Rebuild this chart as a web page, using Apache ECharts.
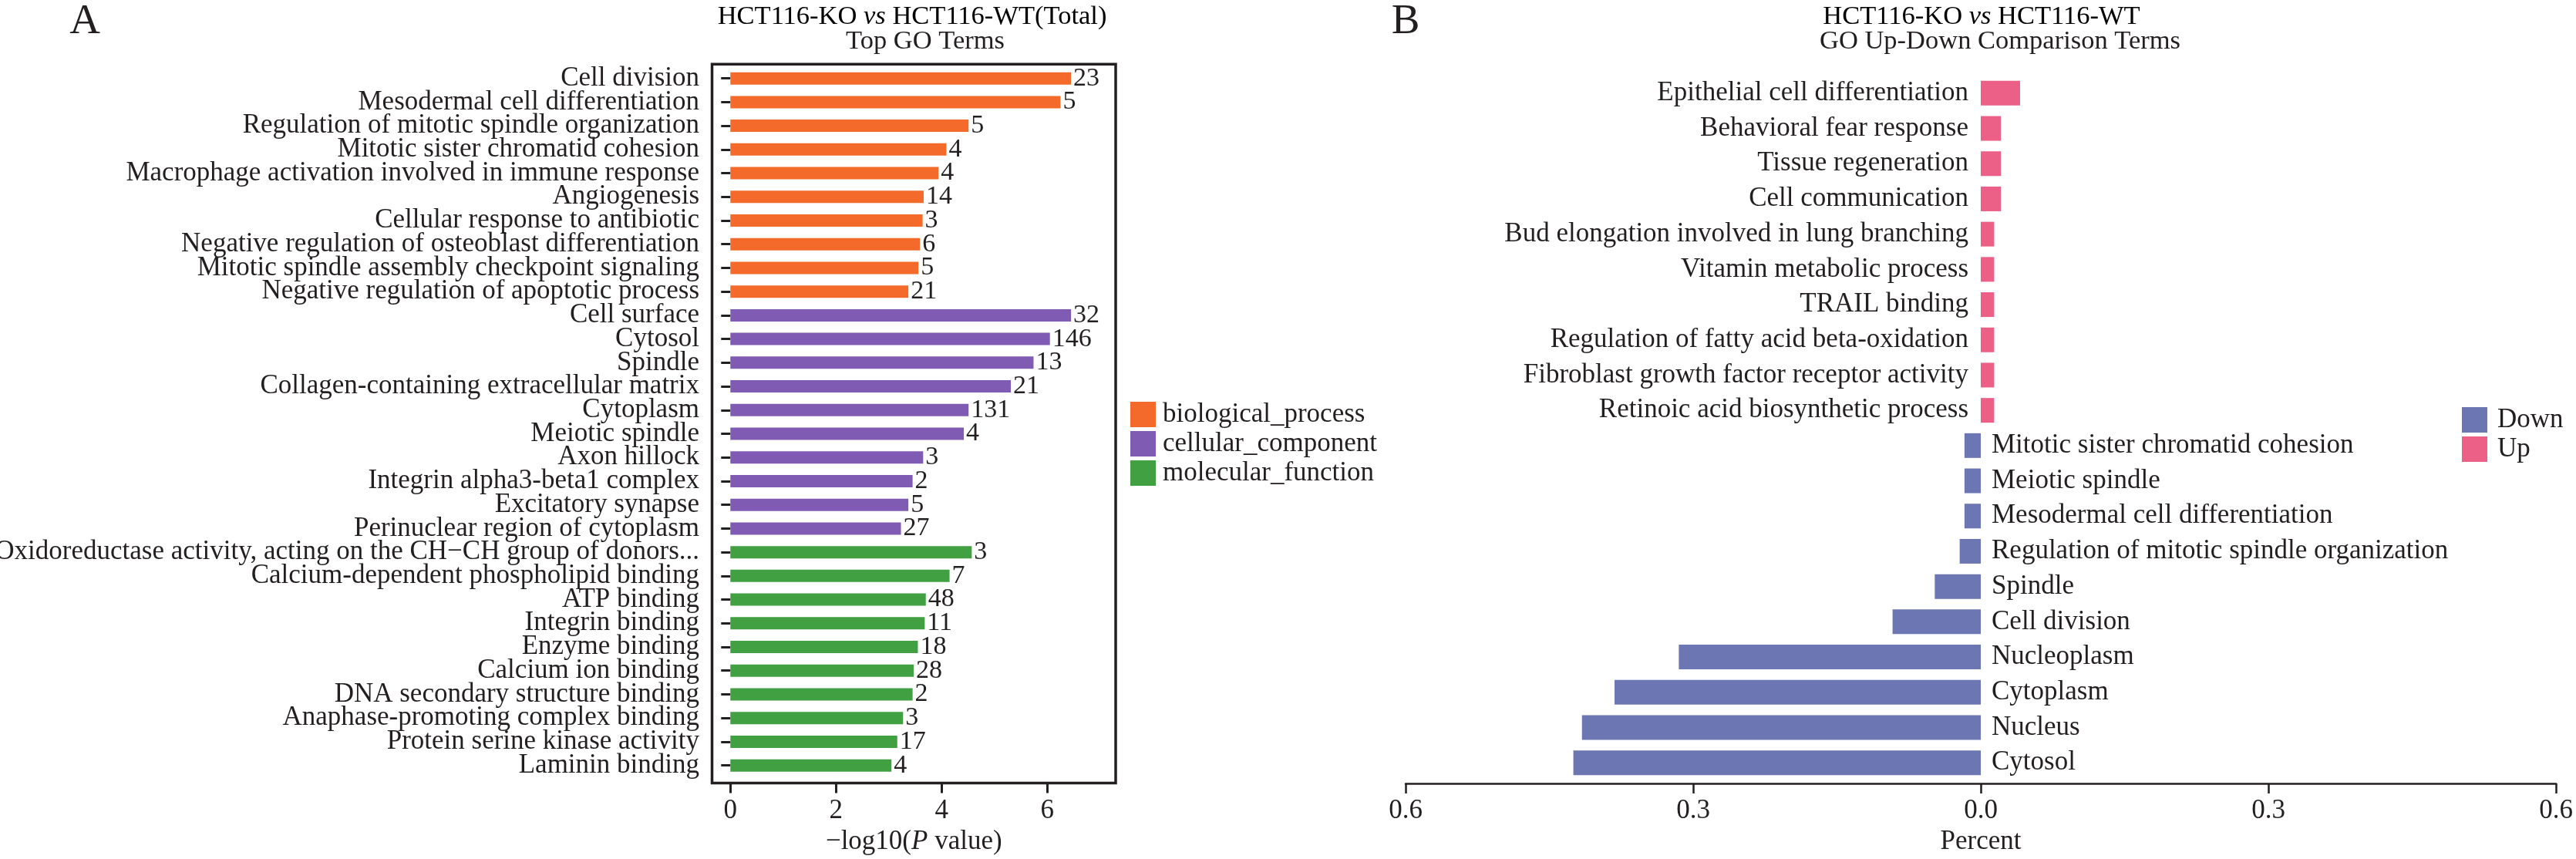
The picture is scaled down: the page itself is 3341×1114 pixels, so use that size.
<!DOCTYPE html>
<html><head><meta charset="utf-8">
<script src="https://cdn.jsdelivr.net/npm/echarts@6/dist/echarts.min.js"></script>
<style>html,body{margin:0;padding:0;background:#fff}#c{width:3341px;height:1114px}</style>
</head><body><div id="c"></div>
<script>
// ---------- Panel A data ----------
const bpTerms = ['Cell division','Mesodermal cell differentiation','Regulation of mitotic spindle organization','Mitotic sister chromatid cohesion','Macrophage activation involved in immune response','Angiogenesis','Cellular response to antibiotic','Negative regulation of osteoblast differentiation','Mitotic spindle assembly checkpoint signaling','Negative regulation of apoptotic process'];
const bpValues = [6.45,6.25,4.51,4.09,3.94,3.66,3.64,3.59,3.56,3.37];
const bpCounts = [23,5,5,4,4,14,3,6,5,21];
const ccTerms = ['Cell surface','Cytosol','Spindle','Collagen-containing extracellular matrix','Cytoplasm','Meiotic spindle','Axon hillock','Integrin alpha3-beta1 complex','Excitatory synapse','Perinuclear region of cytoplasm'];
const ccValues = [6.45,6.05,5.74,5.31,4.51,4.42,3.65,3.45,3.37,3.23];
const ccCounts = [32,146,13,21,131,4,3,2,5,27];
const mfTerms = ['Oxidoreductase activity, acting on the CH\u2212CH group of donors...','Calcium-dependent phospholipid binding','ATP binding','Integrin binding','Enzyme binding','Calcium ion binding','DNA secondary structure binding','Anaphase-promoting complex binding','Protein serine kinase activity','Laminin binding'];
const mfValues = [4.57,4.15,3.70,3.68,3.55,3.47,3.45,3.27,3.16,3.05];
const mfCounts = [3,7,48,11,18,28,2,3,17,4];
const groupNames = ['biological_process','cellular_component','molecular_function'];
const xTicksA = [0,2,4,6];

// ---------- Panel B data ----------
const upTerms = ['Epithelial cell differentiation','Behavioral fear response','Tissue regeneration','Cell communication','Bud elongation involved in lung branching','Vitamin metabolic process','TRAIL binding','Regulation of fatty acid beta-oxidation','Fibroblast growth factor receptor activity','Retinoic acid biosynthetic process'];
const upValues = [0.041,0.021,0.021,0.021,0.014,0.014,0.014,0.014,0.014,0.014];
const downTerms = ['Mitotic sister chromatid cohesion','Meiotic spindle','Mesodermal cell differentiation','Regulation of mitotic spindle organization','Spindle','Cell division','Nucleoplasm','Cytoplasm','Nucleus','Cytosol'];
const downValues = [-0.017,-0.017,-0.017,-0.022,-0.048,-0.092,-0.315,-0.382,-0.416,-0.425];

const FONT = "'Liberation Serif','Times New Roman',Times,serif";
const INK = '#231f20';
const FS = 35;
const colorsA = ['#F36A2B','#7F5BB3','#41A042'];
const colDown = '#6B76B2', colUp = '#EC5F87';

const catA = bpTerms.concat(ccTerms, mfTerms);
const countsA = bpCounts.concat(ccCounts, mfCounts);
const groupsVals = [bpValues, ccValues, mfValues];
function slot(vals, g){ const out = new Array(catA.length).fill(null); vals.forEach((v,i)=>{ out[g*10+i] = v; }); return out; }

const catB = upTerms.concat(downTerms);
const upData = upValues.concat(downTerms.map(()=>null));
const downData = upTerms.map(()=>null).concat(downValues);

const chart = echarts.init(document.getElementById('c'), null, {renderer:'canvas'});
const txt = {fontFamily: FONT, fontSize: FS, color: INK};

const seriesA = groupNames.map((n,g)=>({
  name: n, type: 'bar', xAxisIndex: 1, yAxisIndex: 1,
  data: slot(groupsVals[g], g), barWidth: 16, barGap: '-100%',
  itemStyle: {color: colorsA[g]},
  label: {show: true, position: 'right', distance: 3, fontFamily: FONT, fontSize: 34, color: INK,
          formatter: p => String(countsA[p.dataIndex])}
}));

const option = {
  animation: false,
  backgroundColor: '#fff',
  textStyle: {fontFamily: FONT, color: INK},
  grid: [
    {left: 923.5, right: 1894, top: 83.3, bottom: 98.5, show: true, borderColor: INK, borderWidth: 3.5, backgroundColor: 'transparent', outerBoundsMode: 'none', containLabel: false},
    {left: 923.5, right: 1894, top: 86.3, bottom: 106, outerBoundsMode: 'none', containLabel: false},
    {left: 1823, right: 26, top: 98, bottom: 102, outerBoundsMode: 'none', containLabel: false}
  ],
  xAxis: [
    {gridIndex: 0, type: 'value', min: -0.347, max: 7.295,
     axisLine: {show: false}, splitLine: {show: false},
     axisTick: {show: true, customValues: xTicksA, length: 13, lineStyle: {width: 3, color: INK}},
     axisLabel: {customValues: xTicksA, margin: 19, ...txt},
     name: '\u2212log10({i|P} value)', nameLocation: 'middle', nameGap: 58,
     nameTextStyle: {...txt, rich: {i: {fontStyle: 'italic', fontFamily: FONT, fontSize: FS, color: INK}}}},
    {gridIndex: 1, type: 'value', min: -0.347, max: 7.295, show: false},
    {gridIndex: 2, type: 'value', min: -0.6, max: 0.6, interval: 0.3, offset: 4,
     axisLine: {show: true, lineStyle: {width: 2.5, color: INK}}, splitLine: {show: false},
     axisTick: {show: true, length: 13, lineStyle: {width: 2.5, color: INK}},
     axisLabel: {margin: 18.5, ...txt, formatter: v => Math.abs(v).toFixed(1)},
     name: 'Percent', nameLocation: 'middle', nameGap: 55.5, nameTextStyle: {...txt}}
  ],
  yAxis: [
    {gridIndex: 0, type: 'value', show: false, min: 0, max: 1},
    {gridIndex: 1, type: 'category', data: catA, inverse: true,
     axisLine: {show: false},
     axisTick: {show: true, alignWithLabel: true, length: 12, lineStyle: {width: 3, color: INK}},
     axisLabel: {interval: 0, margin: 16.5, ...txt}},
    {gridIndex: 2, type: 'category', data: catB, inverse: true, show: false}
  ],
  legend: [
    {data: groupNames, orient: 'vertical', left: 1466, top: 520, padding: 0,
     itemWidth: 33, itemHeight: 33, itemGap: 3, icon: 'rect',
     textStyle: {...txt, padding: [0,0,0,4]}},
    {data: ['Down','Up'], orient: 'vertical', left: 3193, top: 527, padding: 0,
     itemWidth: 33, itemHeight: 33, itemGap: 3, icon: 'rect',
     textStyle: {...txt, padding: [0,0,0,8]}}
  ],
  series: seriesA.concat([
    {name: 'Down', type: 'bar', xAxisIndex: 2, yAxisIndex: 2, data: downData, barWidth: 32, barGap: '-100%',
     itemStyle: {color: colDown},
     label: {show: true, position: 'right', distance: 14, formatter: '{b}', ...txt}},
    {name: 'Up', type: 'bar', xAxisIndex: 2, yAxisIndex: 2, data: upData, barWidth: 32, barGap: '-100%',
     itemStyle: {color: colUp},
     label: {show: true, position: 'left', distance: 16, formatter: '{b}', ...txt}}
  ]),
  graphic: [
    {type: 'text', x: 110, y: 28.5, style: {text: 'A', font: '55px ' + FONT, fill: INK, align: 'center', verticalAlign: 'middle'}},
    {type: 'text', x: 1183, y: 21.5, style: {text: '{a|HCT116-KO }{b|vs}{a| HCT116-WT(Total)}', align: 'center', verticalAlign: 'middle',
      rich: {a: {fontFamily: FONT, fontSize: 34.5, color: INK}, b: {fontFamily: FONT, fontSize: 34.5, fontStyle: 'italic', color: INK}}}},
    {type: 'text', x: 1200, y: 54, style: {text: 'Top GO Terms', font: '34.5px ' + FONT, fill: INK, align: 'center', verticalAlign: 'middle'}},
    {type: 'text', x: 1823, y: 28.5, style: {text: 'B', font: '55px ' + FONT, fill: INK, align: 'center', verticalAlign: 'middle'}},
    {type: 'text', x: 2570, y: 21.5, style: {text: '{a|HCT116-KO }{b|vs}{a| HCT116-WT}', align: 'center', verticalAlign: 'middle',
      rich: {a: {fontFamily: FONT, fontSize: 34.5, color: INK}, b: {fontFamily: FONT, fontSize: 34.5, fontStyle: 'italic', color: INK}}}},
    {type: 'text', x: 2594, y: 54, style: {text: 'GO Up-Down Comparison Terms', font: '34.5px ' + FONT, fill: INK, align: 'center', verticalAlign: 'middle'}}
  ]
};
chart.setOption(option);
</script>
</body></html>
